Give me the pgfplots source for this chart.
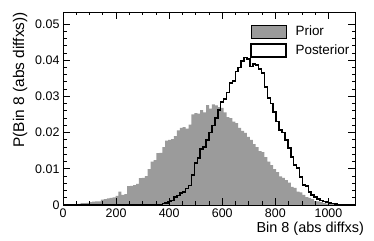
\documentclass[border=0pt]{standalone}
\usepackage{pgfplots}
\usepackage{pgfplotstable}
\usepackage{fontspec}
\setmainfont{Liberation Sans}
\pgfplotsset{compat=1.18}
\definecolor{priorgray}{RGB}{155,155,155}
\pgfplotstableread{
x prior post
0 0 0
11 0 0
22 0 0
33 0 0
44 0.0001 0
55 0.0003 0
66 0.0005 0
77 0.0005 0
88 0.0006 0
99 0.0008 0
110 0.0009 0
121 0.0010 0
132 0.0010 0
143 0.0015 0
154 0.0016 0
165 0.0018 0
176 0.0020 0
187 0.0021 0
198 0.0025 0
209 0.0037 0
220 0.0028 0
231 0.0030 0
242 0.0052 0
253 0.0053 0
264 0.0055 0
275 0.0058 0
286 0.0074 0
297 0.0075 0
308 0.0080 0
319 0.0099 0
330 0.0120 0
341 0.0124 0
352 0.0143 0.0001
363 0.0144 0.0002
374 0.0160 0.0004
385 0.0178 0.0006
396 0.0180 0.0009
407 0.0182 0.0013
418 0.0190 0.0022
429 0.0206 0.0026
440 0.0213 0.0033
451 0.0215 0.0036
462 0.0211 0.0046
473 0.0222 0.0054
484 0.0250 0.0083
495 0.0254 0.0116
506 0.0252 0.0130
517 0.0262 0.0155
528 0.0256 0.0160
539 0.0276 0.0180
550 0.0266 0.0200
561 0.0278 0.0220
572 0.0275 0.0240
583 0.0270 0.0262
594 0.0268 0.0285
605 0.0256 0.0293
616 0.0243 0.0310
627 0.0240 0.0337
638 0.0230 0.0342
649 0.0226 0.0368
660 0.0213 0.0380
671 0.0205 0.0397
682 0.0199 0.0408
693 0.0188 0.0403
704 0.0180 0.0383
715 0.0168 0.0390
726 0.0160 0.0386
737 0.0149 0.0376
748 0.0146 0.0365
759 0.0132 0.0326
770 0.0120 0.0295
781 0.0110 0.0280
792 0.0099 0.0257
803 0.0091 0.0230
814 0.0079 0.0207
825 0.0075 0.0200
836 0.0069 0.0180
847 0.0062 0.0157
858 0.0050 0.0133
869 0.0047 0.0110
880 0.0037 0.0102
891 0.0035 0.0077
902 0.0028 0.0055
913 0.0022 0.0053
924 0.0020 0.0036
935 0.0016 0.0028
946 0.0011 0.0022
957 0.0010 0.0016
968 0.0008 0.0013
979 0.0005 0.0009
990 0.0004 0.0008
1001 0.0003 0.0005
1012 0.0003 0.0004
1023 0.0002 0.0003
1034 0.0001 0.0002
1045 0.0001 0.0002
1056 0 0.0001
1067 0 0.0001
1078 0 0.00005
1089 0 0
1100 0 0
}\histdata
\begin{document}
\begin{tikzpicture}
\begin{axis}[
  scale only axis,
  width=292bp, height=193bp,
  at={(63bp,36bp)}, anchor=south west,
  xmin=0, xmax=1100, ymin=0, ymax=0.0533,
  xtick={0,200,400,600,800,1000},
  xticklabels={0,200,400,600,800,1000},
  minor x tick num=3,
  ytick={0,0.01,0.02,0.03,0.04,0.05},
  yticklabels={0,0.01,0.02,0.03,0.04,0.05},
  minor y tick num=4,
  scaled y ticks=false,
  tick align=inside,
  major tick length=7bp, minor tick length=3.5bp,
  xtick pos=both, ytick pos=both,
  xticklabel pos=bottom, yticklabel pos=left,
  axis line style={line width=0.8bp},
  every tick/.style={black, line width=0.8bp},
  /pgf/number format/assume math mode=true,
  tick label style={font=\fontsize{12.5}{14}\selectfont},
  xlabel={Bin 8 (abs diffxs)},
  ylabel={P(Bin 8 (abs diffxs))},
  xlabel style={font=\fontsize{14.5}{16}\selectfont, inner sep=0pt, at={(axis description cs:1.031,-0.087)}, anchor=north east},
  ylabel style={font=\fontsize{15.5}{17}\selectfont, inner sep=0pt, at={(axis description cs:-0.147,1.0)}, anchor=east},
  axis on top,
  legend style={draw=none, fill=none, at={(axis description cs:0.64,0.94)}, anchor=north west,
    font=\fontsize{13.5}{15}\selectfont, row sep=4bp, inner sep=0pt,
    /tikz/every odd column/.append style={column sep=7bp}},
  legend cell align=left,
  legend image code/.code={\draw[#1] (0bp,-6.5bp) rectangle (35bp,6.5bp);},
]
\addplot[const plot, fill=priorgray, draw=none, forget plot] table[x=x, y=prior] {\histdata} \closedcycle;
\addplot[const plot, draw=black, line width=1.5bp, forget plot] table[x=x, y=post] {\histdata};
\addlegendimage{fill=priorgray, draw=none}
\addlegendentry{Prior}
\addlegendimage{fill=white, draw=black, line width=1.5bp}
\addlegendentry{Posterior}
\end{axis}
\pgfresetboundingbox
\path[use as bounding box] (0,0) rectangle (374bp,241bp);
\end{tikzpicture}
\end{document}
